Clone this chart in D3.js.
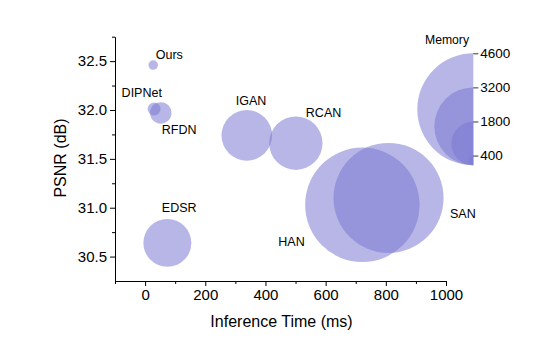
<!DOCTYPE html>
<html>
<head>
<meta charset="utf-8">
<script src="https://cdn.jsdelivr.net/npm/d3@7"></script>
<style>
  body { margin: 0; background: #fff; }
  svg text { font-family: "Liberation Sans", Arial, sans-serif; fill: #000; }
</style>
</head>
<body>
<div id="chart"></div>
<script>
// values
const methods = ["Ours", "DIPNet", "RFDN", "IGAN", "RCAN", "EDSR", "HAN", "SAN"];
const inferenceTime = [27, 30, 52, 338, 501, 74, 722, 809];   // ms
const psnr = [32.46, 32.01, 31.97, 31.74, 31.66, 30.64, 31.03, 31.10]; // dB
const memory = [390, 530, 880, 2080, 2190, 1970, 4700, 4520];  // MB

const xTicks = [0, 200, 400, 600, 800, 1000];
const yTicks = [30.5, 31.0, 31.5, 32.0, 32.5];
const legendValues = [400, 1800, 3200, 4600];

const width = 552, height = 343;

// label placement relative to the bubble centre (px)
const labelOffset = {
    Ours:   [2.5, -6.5],
    DIPNet: [-32.5, -12],
    RFDN:   [1, 21],
    IGAN:   [-11, -30.5],
    RCAN:   [10, -26.5],
    EDSR:   [-5.5, -30.5],
    HAN:    [-84, 41],
    SAN:    [61.5, 20.5]
};

const svg = d3.select("#chart").append("svg")
    .attr("width", width)
    .attr("height", height);

const x = d3.scaleLinear().domain([-100, 1000]).range([115, 446]);
const y = d3.scaleLinear().domain([30.25, 32.75]).range([281, 36.7]);
// bubble radius is linear in memory
const r = d3.scaleLinear().domain([0, 4600]).range([0, 56]);

const fill = "rgb(124,122,210)";
const alpha = 0.55;

// bubbles
const data = methods.map((m, i) => ({
    name: m, t: inferenceTime[i], p: psnr[i], mem: memory[i]
}));

svg.append("g").selectAll("circle")
    .data(data)
    .join("circle")
    .attr("cx", d => x(d.t))
    .attr("cy", d => y(d.p))
    .attr("r", d => r(d.mem))
    .style("fill", fill)
    .style("fill-opacity", alpha);

svg.append("g").selectAll("text")
    .data(data)
    .join("text")
    .attr("x", d => x(d.t) + labelOffset[d.name][0])
    .attr("y", d => y(d.p) + labelOffset[d.name][1])
    .style("font-size", "12.5px")
    .text(d => d.name);

// axes
const xAxis = svg.append("g")
    .attr("transform", "translate(0," + y.range()[0] + ")")
    .call(d3.axisBottom(x).tickValues(xTicks).tickSize(5).tickSizeOuter(0).tickPadding(3)
        .tickFormat(d3.format("d")));
xAxis.selectAll("text").style("font-size", "15px");

const xMinor = svg.append("g")
    .attr("transform", "translate(0," + y.range()[0] + ")")
    .call(d3.axisBottom(x).tickValues(d3.range(-100, 1001, 200)).tickSize(3).tickFormat(""));
xMinor.select(".domain").remove();

const yAxis = svg.append("g")
    .attr("transform", "translate(" + x.range()[0] + ",0)")
    .call(d3.axisLeft(y).tickValues(yTicks).tickSize(5).tickSizeOuter(0).tickPadding(3)
        .tickFormat(d3.format(".1f")));
yAxis.selectAll("text").style("font-size", "15px");

const yMinor = svg.append("g")
    .attr("transform", "translate(" + x.range()[0] + ",0)")
    .call(d3.axisLeft(y).tickValues([30.75, 31.25, 31.75, 32.25, 32.75]).tickSize(3).tickFormat(""));
yMinor.select(".domain").remove();

svg.selectAll(".domain, .tick line").attr("stroke", "#000").attr("stroke-width", 1);

svg.append("text")
    .attr("x", 281.5)
    .attr("y", 327)
    .attr("text-anchor", "middle")
    .style("font-size", "16px")
    .text("Inference Time (ms)");

svg.append("text")
    .attr("transform", "translate(66,158) rotate(-90)")
    .attr("text-anchor", "middle")
    .style("font-size", "16px")
    .text("PSNR (dB)");

// memory legend: left half circles sharing the bottom point
const legX = 473.3, legBottom = 165.3;
const legScale = d3.scaleLinear().domain([0, 4600]).range([legBottom, legBottom - 2 * r(4600)]);
const halfArc = d3.arc().innerRadius(0).startAngle(Math.PI).endAngle(2 * Math.PI);

svg.append("g").selectAll("path")
    .data(legendValues.slice().reverse())
    .join("path")
    .attr("transform", d => "translate(" + legX + "," + (legBottom - r(d)) + ")")
    .attr("d", d => halfArc({outerRadius: r(d)}))
    .style("fill", fill)
    .style("fill-opacity", alpha);

const legAxis = svg.append("g")
    .attr("transform", "translate(" + legX + ",0)")
    .call(d3.axisRight(legScale).tickValues(legendValues).tickSize(5).tickPadding(2)
        .tickFormat(d3.format("d")));
legAxis.select(".domain").remove();
legAxis.selectAll("line").attr("stroke", "#000").attr("stroke-width", 0.8);
legAxis.selectAll("text").style("font-size", "13.5px");

svg.append("text")
    .attr("x", 425)
    .attr("y", 44)
    .style("font-size", "12.2px")
    .text("Memory");
</script>
</body>
</html>
